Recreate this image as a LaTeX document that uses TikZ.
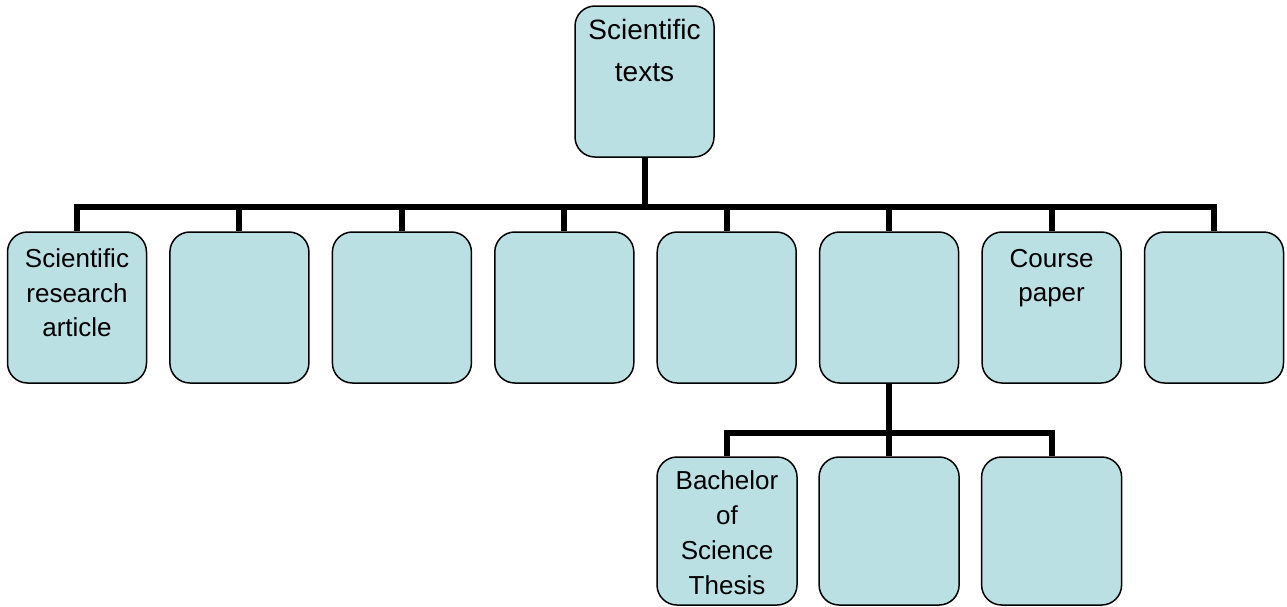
\documentclass[tikz,border=0pt]{standalone}
\usepackage{fontspec}
\setmainfont{Liberation Sans}
\usetikzlibrary{backgrounds}
\definecolor{boxfill}{RGB}{187,224,227}
\newcommand{\bxtext}[4]{\parbox[c][#1][t]{#2}{\centering\vspace*{#3}#4\par}}
\begin{document}
\begin{tikzpicture}[x=1pt,y=1pt,
  box/.style={draw=black, line width=1.5pt, fill=boxfill, rounded corners=20pt, inner sep=0pt,
    minimum width=139pt, minimum height=151pt},
  conn/.style={line width=6pt, draw=black},
  toptext/.style={font=\fontsize{28}{42}\selectfont},
  rowtext/.style={font=\fontsize{26}{34.5}\selectfont},
  bottext/.style={font=\fontsize{26}{35}\selectfont, minimum width=140pt, minimum height=148pt}]
\useasboundingbox (0,0) rectangle (1287,-606);
% top
\node[box,toptext] (top) at (644.5,-81.5) {\bxtext{151pt}{139pt}{13pt}{Scientific\\texts}};
% first row
\node[box,rowtext] (r1) at (77,-307.5) {\bxtext{151pt}{139pt}{17pt}{Scientific\\research\\article}};
\node[box,rowtext] (r2) at (239.4,-307.5) {};
\node[box,rowtext] (r3) at (401.9,-307.5) {};
\node[box,rowtext] (r4) at (564.3,-307.5) {};
\node[box,rowtext] (r5) at (726.7,-307.5) {};
\node[box,rowtext] (r6) at (889.1,-307.5) {};
\node[box,rowtext] (r7) at (1051.6,-307.5) {\bxtext{151pt}{139pt}{17pt}{Course\\paper}};
\node[box,rowtext] (r8) at (1214,-307.5) {};
% second row
\node[box,bottext] (b1) at (727,-531) {\bxtext{148pt}{140pt}{14pt}{Bachelor\\of\\Science\\Thesis}};
\node[box,bottext] (b2) at (889.1,-531) {};
\node[box,bottext] (b3) at (1051.6,-531) {};
% connectors
\coordinate (j1) at (top.south |- 0,-207);
\coordinate (j2) at (r6.south |- 0,-433);
\begin{scope}[on background layer]
\draw[conn] (top.south) -- (j1);
\foreach \n in {r1,r2,r3,r4,r5,r6,r7,r8}{\draw[conn] (j1) -| (\n.north);}
\draw[conn] (r6.south) -- (j2);
\foreach \n in {b1,b2,b3}{\draw[conn] (j2) -| (\n.north);}
\end{scope}
\end{tikzpicture}
\end{document}
